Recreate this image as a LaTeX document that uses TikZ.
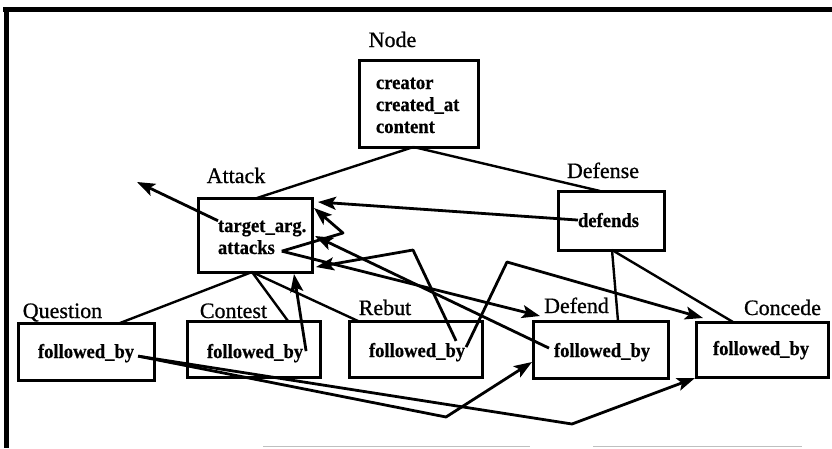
\documentclass[tikz,border=0pt]{standalone}
\usepackage{fontspec}
\setmainfont{Liberation Serif}
\newfontfamily\boxfont[FakeStretch=0.93,FakeBold=0.6]{Liberation Serif}
\newfontfamily\lblfont[FakeBold=0.8]{Liberation Serif}
\usetikzlibrary{arrows.meta,calc}
\begin{document}
\begin{tikzpicture}[x=1pt,y=-1pt,
  box/.style={draw, line width=3pt, rectangle, inner sep=0pt, outer sep=0pt},
  lbl/.style={font=\lblfont\fontsize{22}{24}\selectfont, inner sep=0pt, anchor=base},
  txt/.style={font=\boxfont\bfseries\fontsize{20}{24}\selectfont, inner sep=0pt, outer sep=0pt, anchor=base west},
  link/.style={line width=2.4pt},
  arr/.style={line width=2.8pt, line join=round, -{Stealth[length=18pt,width=13pt,inset=4pt]}},
]
\useasboundingbox (0,0) rectangle (832,448);

% frame
\draw[line width=4.5pt] (3,9.5) -- (832,9.5);
\draw[line width=4.5pt] (6.5,8) -- (6.5,448);
\draw[gray!50, line width=1.5pt] (263,446.5) -- (530,446.5) (593,446.5) -- (802,446.5);

% boxes
\node[box, minimum width=119pt, minimum height=87pt] (nb) at (418.5,103.5) {};
\node[box, minimum width=114pt, minimum height=74pt] (ab) at (255,235) {};
\node[box, minimum width=106pt, minimum height=59pt] (fb) at (611,220.5) {};
\node[box, minimum width=136pt, minimum height=57pt] (qb) at (86,351.5) {};
\node[box, minimum width=133pt, minimum height=56pt] (cb) at (253.5,349) {};
\node[box, minimum width=133pt, minimum height=56pt] (rb) at (415.5,349) {};
\node[box, minimum width=135pt, minimum height=57pt] (db) at (600.5,349.5) {};
\node[box, minimum width=132pt, minimum height=55pt] (kb) at (762,349.5) {};

% labels
\node[lbl] (ln) at (392.5,47) {Node};
\node[lbl] (la) at (236,183) {Attack};
\node[lbl] (ld) at (603,178) {Defense};
\node[lbl] (lq) at (62.5,318) {Question};
\node[lbl] (lc) at (233.5,318) {Contest};
\node[lbl] (lr) at (385,315) {Rebut};
\node[lbl] (lf) at (576.5,313) {Defend};
\node[lbl] (lk) at (782.5,315) {Concede};

% box texts
\node[txt] (n1) at (376,89) {creator};
\node[txt] (n2) at (376,111) {created\_at};
\node[txt] (n3) at (376,133) {content};
\node[txt] (ta) at (218,232) {target\_arg.};
\node[txt] (at) at (218,254) {attacks};
\node[txt] (df) at (578,227) {defends};
\node[txt] (qt) at (38,358) {followed\_by};
\node[txt] (ct) at (207,358) {followed\_by};
\node[txt] (rt) at (369,357) {followed\_by};
\node[txt] (dt) at (554,357) {followed\_by};
\node[txt] (kt) at (713,355) {followed\_by};

% hierarchy lines
\draw[link] ($(nb.south)+(-5,0)$) -- ($(ab.north)+(2,0)$);
\draw[link] ($(nb.south)+(-5,0)$) -- ($(fb.north)+(-11,0)$);
\draw[link] ($(ab.south)+(-3,0)$) -- ($(qb.north)+(34,0)$);
\draw[link] ($(ab.south)+(-3,0)$) -- ($(cb.north)+(34.5,0)$);
\draw[link] ($(ab.south)+(-3,0)$) -- ($(rb.north)+(-57.5,0)$);
\draw[link] ($(fb.south)+(1,0)$) -- ($(db.north)+(17.5,0)$);
\draw[link] ($(fb.south)+(1,0)$) -- ($(kb.north)+(-29,0)$);

% free ends and bends
\coordinate (t1) at (137,182);
\coordinate (b3) at (343,233);
\coordinate (b5) at (413,250);
\coordinate (b7) at (507,262);
\coordinate (b9) at (446,417);
\coordinate (b10) at (572,424);

% reference arrows
\draw[arr] (ta.north west) -- (t1);
\draw[arr] (df.west) -- ($(ab.north east)+(6,4)$);
\draw[arr] ($(at.east)+(7,4)$) -- (b3) -- ($(ab.north east)+(2,10)$);
\draw[arr] ($(at.east)+(7,4)$) -- ($(db.north west)+(7,-5)$);
\draw[arr] ($(dt.west)+(-5,-4)$) -- ($(ab.east)+(3,1)$);
\draw[arr] ($(rt.north east)+(-9,-2)$) -- (b5) -- ($(ab.south east)+(4,-5)$);
\draw[arr] ($(rt.east)+(1,-5)$) -- (b7) -- ($(kb.north west)+(7,-4)$);
\draw[arr] ($(ct.east)+(3,-2)$) -- ($(ab.south)+(39,2)$);
\draw[arr] ($(qt.east)+(4,3)$) -- (b9) -- ($(db.west)+(-1,12.5)$);
\draw[arr] ($(qt.east)+(4,3)$) -- (b10) -- ($(kb.south west)+(-1,1)$);
\end{tikzpicture}
\end{document}
